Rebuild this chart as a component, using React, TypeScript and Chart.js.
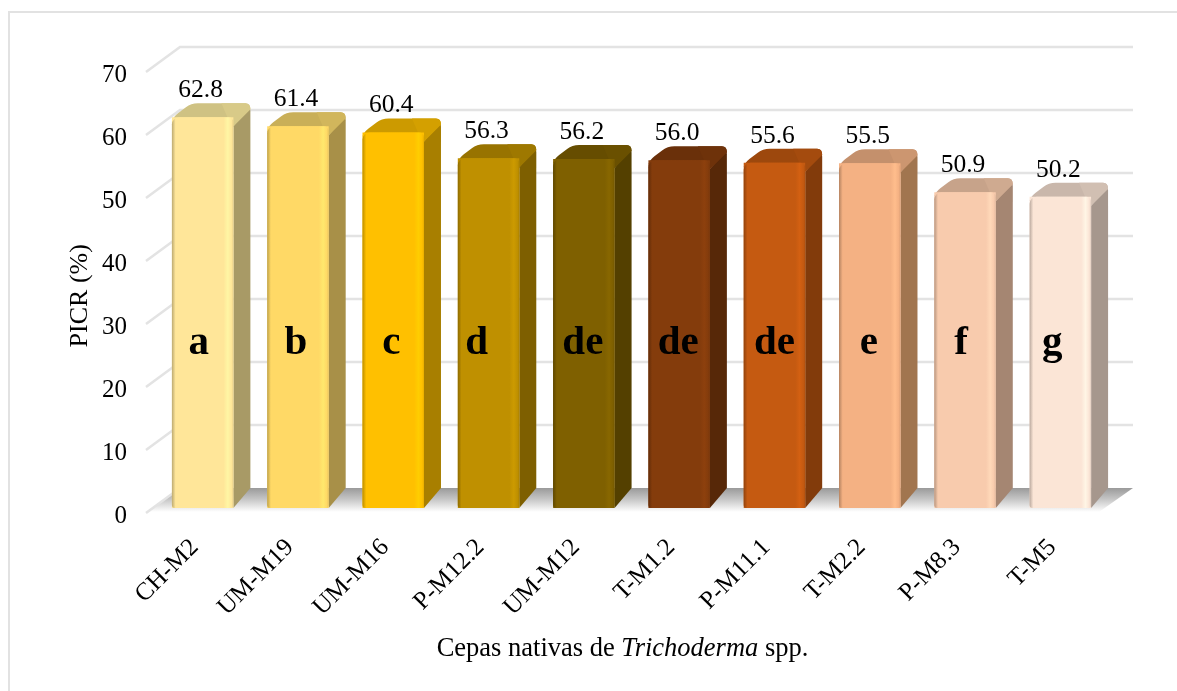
import React, { useEffect, useRef } from "react";
import { Chart, registerables } from "chart.js";

Chart.register(...registerables);

const categories = ["CH-M2", "UM-M19", "UM-M16", "P-M12.2", "UM-M12", "T-M1.2", "P-M11.1", "T-M2.2", "P-M8.3", "T-M5"];
const picr = [62.8, 61.4, 60.4, 56.3, 56.2, 56.0, 55.6, 55.5, 50.9, 50.2];
const valueLabels = ["62.8", "61.4", "60.4", "56.3", "56.2", "56.0", "55.6", "55.5", "50.9", "50.2"];
const letters = ["a", "b", "c", "d", "de", "de", "de", "e", "f", "g"];
const barColors = ["#FFE699", "#FFD966", "#FFC000", "#BF9000", "#7F6000", "#843C0C", "#C55A11", "#F4B183", "#F8CBAD", "#FBE5D6"];
const sideColors = ["#A89A66", "#A89048", "#A87F00", "#7E5F00", "#544000", "#572808", "#823B0B", "#A1754F", "#A58672", "#A6978D"];
const topColors = ["#D8CA88", "#D1B65C", "#D4A000", "#9E7800", "#6A5000", "#6E320A", "#A44B0E", "#CC9670", "#CFAA90", "#D1BFB2"];
const letterShift = [-4, -2, -2, -12, -1, -1, 0, -1, -4, -8];

const SERIF = '"Liberation Serif", "Times New Roman", serif';
const DX = 17;
const DY = 20;

function shade(hex: string, f: number) {
  const n = parseInt(hex.slice(1), 16);
  const c = (v: number) => Math.max(0, Math.min(255, Math.round(v * f)));
  return `rgb(${c((n >> 16) & 255)},${c((n >> 8) & 255)},${c(n & 255)})`;
}

const scene3d = {
  id: "scene3d",
  beforeDraw(chart: any) {
    const { ctx, width, height } = chart;
    ctx.save();
    ctx.fillStyle = "#fff";
    ctx.fillRect(0, 0, width, height);
    ctx.strokeStyle = "#e2e2e2";
    ctx.lineWidth = 2;
    ctx.beginPath();
    ctx.moveTo(9, height);
    ctx.lineTo(9, 12);
    ctx.lineTo(width, 12);
    ctx.stroke();
    ctx.restore();
  },
  beforeDatasetsDraw(chart: any) {
    const { ctx, scales, chartArea } = chart;
    const y = scales.y;
    const frontL = chartArea.left - 9;
    const backL = frontL + 34;
    const backR = 1133;
    ctx.save();
    // floor
    const y0 = y.getPixelForValue(0);
    const backY = y0 - 25;
    const g = ctx.createLinearGradient(0, backY, 0, y0 - 1);
    g.addColorStop(0, "#9a9a9a");
    g.addColorStop(0.45, "#c4c4c4");
    g.addColorStop(1, "#ffffff");
    ctx.fillStyle = g;
    ctx.beginPath();
    ctx.moveTo(frontL, y0 - 1);
    ctx.lineTo(backL, backY);
    ctx.lineTo(backR, backY);
    ctx.lineTo(backR - 34, y0 - 1);
    ctx.closePath();
    ctx.fill();
    // grid
    ctx.strokeStyle = "#e3e3e3";
    ctx.lineWidth = 2.5;
    for (const t of y.ticks) {
      const py = y.getPixelForValue(t.value);
      ctx.beginPath();
      ctx.moveTo(frontL, py);
      ctx.lineTo(backL, py - 25);
      if (t.value > 0) ctx.lineTo(backR, py - 25);
      ctx.stroke();
    }
    // bar sides and tops
    const meta = chart.getDatasetMeta(0);
    meta.data.forEach((bar: any, i: number) => {
      const l = bar.x - bar.width / 2;
      const r = bar.x + bar.width / 2;
      const top = bar.y;
      const bot = bar.base;
      ctx.fillStyle = sideColors[i];
      ctx.beginPath();
      ctx.moveTo(r, top + 9);
      ctx.lineTo(r + DX - 2, top - 9);
      ctx.quadraticCurveTo(r + DX, top - 9, r + DX, top - 6);
      ctx.lineTo(r + DX, bot - DY);
      ctx.lineTo(r, bot);
      ctx.closePath();
      ctx.fill();
      // roof: darker main face
      ctx.fillStyle = shade(topColors[i], 0.96);
      ctx.beginPath();
      ctx.moveTo(l, top + 4);
      ctx.quadraticCurveTo(l + 1, top, l + 6, top - 4);
      ctx.lineTo(l + 14, top - 10);
      ctx.quadraticCurveTo(l + 19, top - 14, l + 26, top - 14);
      ctx.lineTo(r + DX - 5, top - 14);
      ctx.quadraticCurveTo(r + DX, top - 14, r + DX, top - 8);
      ctx.lineTo(r, top + 9);
      ctx.closePath();
      ctx.fill();
      // roof: lighter right bevel
      ctx.fillStyle = topColors[i];
      ctx.beginPath();
      ctx.moveTo(r - 6, top);
      ctx.lineTo(r - 12, top - 14);
      ctx.lineTo(r + DX - 5, top - 14);
      ctx.quadraticCurveTo(r + DX, top - 14, r + DX, top - 8);
      ctx.lineTo(r, top + 9);
      ctx.closePath();
      ctx.fill();
    });
    ctx.restore();
  },
  afterDatasetsDraw(chart: any) {
    const { ctx } = chart;
    const meta = chart.getDatasetMeta(0);
    ctx.save();
    meta.data.forEach((bar: any, i: number) => {
      const l = bar.x - bar.width / 2;
      const r = bar.x + bar.width / 2;
      const g = ctx.createLinearGradient(l, 0, r, 0);
      g.addColorStop(0, shade(barColors[i], 0.74));
      g.addColorStop(0.06, barColors[i]);
      g.addColorStop(0.84, barColors[i]);
      g.addColorStop(0.91, shade(barColors[i], 1.07));
      g.addColorStop(0.97, barColors[i]);
      g.addColorStop(1, shade(barColors[i], 0.9));
      ctx.fillStyle = g;
      ctx.beginPath();
      ctx.roundRect(l, bar.y, bar.width, bar.base - bar.y, [7, 5, 3, 3]);
      ctx.fill();
    });
    // value labels
    ctx.fillStyle = "#000";
    ctx.textAlign = "center";
    ctx.textBaseline = "alphabetic";
    ctx.font = `25.5px ${SERIF}`;
    meta.data.forEach((bar: any, i: number) => {
      ctx.fillText(valueLabels[i], bar.x - 2, bar.y - 20);
    });
    // significance letters
    ctx.font = `bold 41px ${SERIF}`;
    const ly = chart.scales.y.getPixelForValue(25.2);
    meta.data.forEach((bar: any, i: number) => {
      ctx.fillText(letters[i], bar.x + letterShift[i], ly);
    });
    // axis title with italic genus
    const parts: [string, string][] = [
      ["Cepas nativas de ", `26.5px ${SERIF}`],
      ["Trichoderma", `italic 26.5px ${SERIF}`],
      [" spp.", `26.5px ${SERIF}`],
    ];
    let total = 0;
    for (const [t, f] of parts) {
      ctx.font = f;
      total += ctx.measureText(t).width;
    }
    let x = 622.5 - total / 2;
    ctx.textAlign = "left";
    for (const [t, f] of parts) {
      ctx.font = f;
      ctx.fillText(t, x, 656);
      x += ctx.measureText(t).width;
    }
    ctx.restore();
  },
};

export default function App() {
  const ref = useRef<HTMLCanvasElement>(null);
  useEffect(() => {
    const chart = new Chart(ref.current!, {
      type: "bar",
      data: {
        labels: categories,
        datasets: [{ data: picr, backgroundColor: barColors, base: 0.8, barPercentage: 0.645, categoryPercentage: 1 } as any],
      },
      plugins: [scene3d],
      options: {
        animation: false,
        responsive: false,
        layout: { padding: { top: 72, left: 0, right: 1177 - 1108, bottom: 0 } },
        plugins: { legend: { display: false }, tooltip: { enabled: false } },
        scales: {
          x: {
            grid: { display: false },
            border: { display: false },
            ticks: {
              color: "#000",
              font: { family: SERIF, size: 25 },
              minRotation: 45,
              maxRotation: 45,
              padding: 12,
              labelOffset: -8,
              autoSkip: false,
            },
            afterFit(s: any) { s.height = 691 - 513; },
          },
          y: {
            min: 0,
            max: 70,
            grid: { display: false },
            border: { display: false },
            ticks: { stepSize: 10, color: "#000", font: { family: SERIF, size: 25 }, padding: 20, labelOffset: 3 },
            title: { display: true, text: "PICR (%) ", color: "#000", font: { family: SERIF, size: 26 }, padding: { top: 65, bottom: 0 } },
            afterFit(s: any) { s.width = 155; },
          },
        },
      },
    } as any);
    return () => chart.destroy();
  }, []);
  return (
    <div style={{ position: "absolute", left: 0, top: 0, width: 1177, height: 691, overflow: "hidden" }}>
      <canvas ref={ref} width={1177} height={691} style={{ display: "block", width: 1177, height: 691 }} />
    </div>
  );
}
